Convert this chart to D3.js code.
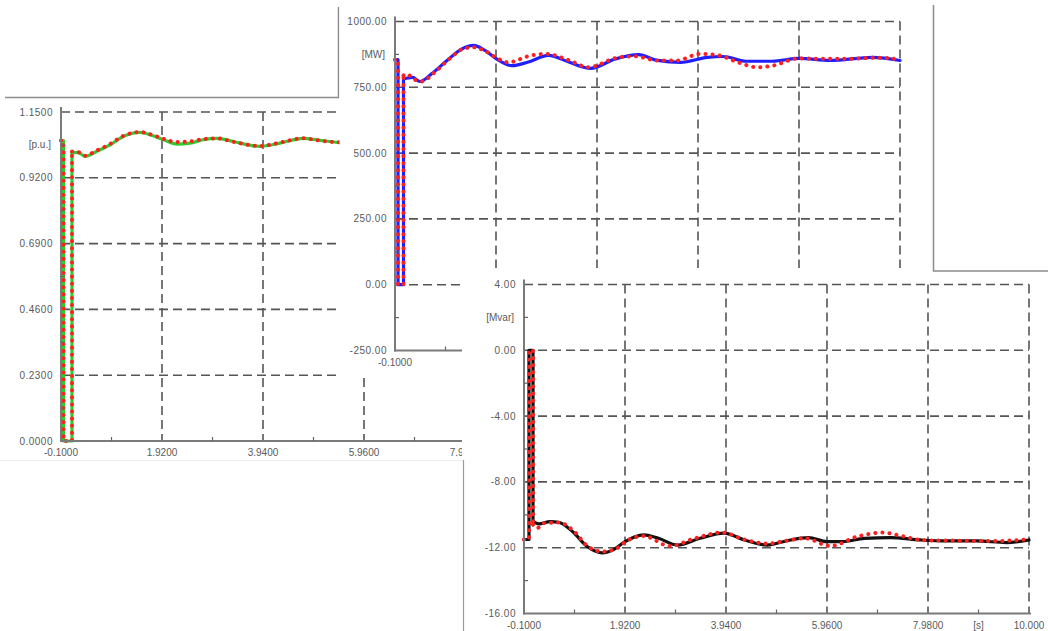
<!DOCTYPE html>
<html>
<head>
<meta charset="utf-8">
<script src="https://cdn.jsdelivr.net/npm/d3@7"></script>
<style>
  html, body { margin: 0; padding: 0; background: #fff; }
  svg { display: block; }
  text { font-family: "Liberation Sans", Arial, sans-serif; font-size: 10px; fill: #5a5a5a; }
  text.ylab { letter-spacing: 0.5px; }
</style>
</head>
<body>
<svg id="chart" width="1048" height="631"></svg>
<script>
// ---------------- DATA ----------------
const xTicks = [-0.1, 1.92, 3.94, 5.96, 7.98, 10.0];
const xTickLabels = ["-0.1000", "1.9200", "3.9400", "5.9600", "7.9800", "10.000"];

// Panel A: voltage [p.u.]
const voltTicks = [0, 0.23, 0.46, 0.69, 0.92, 1.15];
const voltTickLabels = ["0.0000", "0.2300", "0.4600", "0.6900", "0.9200", "1.1500"];
const voltTime = [-0.1, -0.05, -0.05, 0.12, 0.12, 0.24, 0.38, 0.61, 0.88, 1.14, 1.48, 1.74, 1.95, 2.22, 2.48, 2.74, 3.02, 3.34, 3.88, 4.28, 4.74, 5.08, 5.44, 5.7];
const voltSim  = [1.05, 1.05, 0, 0, 1.007, 1.009, 0.995, 1.012, 1.035, 1.064, 1.079, 1.067, 1.053, 1.038, 1.041, 1.053, 1.058, 1.047, 1.030, 1.041, 1.058, 1.051, 1.044, 1.042];
const voltMeas = [1.05, 1.05, 0, 0, 1.012, 1.010, 0.997, 1.015, 1.038, 1.066, 1.080, 1.069, 1.056, 1.045, 1.047, 1.055, 1.058, 1.046, 1.031, 1.043, 1.058, 1.050, 1.044, 1.043];

// Panel B: active power [MW]
const powTicks = [-250, 0, 250, 500, 750, 1000];
const powTickLabels = ["-250.00", "0.00", "250.00", "500.00", "750.00", "1000.00"];
const powSimTime = [-0.1, -0.04, -0.04, 0.07, 0.07, 0.25, 0.4, 0.63, 0.94, 1.24, 1.47, 1.7, 1.93, 2.24, 2.55, 2.97, 3.39, 3.81, 4.31, 4.77, 5.15, 5.61, 6.15, 6.46, 6.92, 7.45, 7.98, 8.6, 9.45, 10.0];
const powSim = [855, 855, 0, 0, 782, 788, 772, 801, 852, 896, 909, 890, 858, 832, 845, 871, 845, 822, 858, 874, 852, 845, 864, 867, 849, 849, 860, 852, 864, 852];
const powMeasTime = [-0.1, -0.04, -0.04, 0.07, 0.07, 0.13, 0.27, 0.42, 0.7, 1.0, 1.25, 1.47, 1.7, 1.93, 2.16, 2.62, 2.93, 3.39, 3.77, 4.31, 4.69, 5.15, 5.54, 6.0, 6.38, 6.76, 7.15, 7.45, 7.98, 8.37, 8.91, 9.52, 9.83, 10.0];
const powMeas = [855, 855, 0, 0, 795, 801, 782, 772, 808, 860, 895, 902, 888, 862, 845, 871, 877, 852, 826, 861, 868, 852, 852, 877, 871, 845, 826, 832, 860, 858, 858, 862, 860, 848];

// Panel C: reactive power [Mvar]
const qTicks = [-16, -12, -8, -4, 0, 4];
const qTickLabels = ["-16.00", "-12.00", "-8.00", "-4.00", "0.00", "4.00"];
const qSimTime = [-0.1, 0, 0, 0.08, 0.08, 0.2, 0.42, 0.61, 0.87, 1.17, 1.47, 1.7, 1.92, 2.29, 2.59, 2.97, 3.42, 3.9, 4.31, 4.76, 5.14, 5.59, 5.96, 6.26, 6.71, 7.23, 7.83, 8.35, 8.95, 9.55, 10.0];
const qSim = [-11.5, -11.5, 0, 0, -10.4, -10.55, -10.41, -10.47, -11.02, -11.94, -12.31, -12.1, -11.63, -11.22, -11.43, -11.84, -11.43, -11.12, -11.53, -11.84, -11.59, -11.39, -11.63, -11.63, -11.43, -11.39, -11.53, -11.59, -11.59, -11.69, -11.53];
const qMeasTime = [-0.1, 0, 0, 0.08, 0.08, 0.16, 0.3, 0.6, 0.9, 1.17, 1.47, 1.75, 1.95, 2.29, 2.82, 3.3, 3.86, 4.3, 4.76, 5.2, 5.52, 6.03, 6.56, 7.08, 7.45, 7.9, 8.5, 9.25, 10.0];
const qMeas = [-11.5, -11.5, 0, 0, -10.6, -10.82, -10.51, -10.47, -11.0, -11.9, -12.24, -12.05, -11.6, -11.29, -11.9, -11.45, -11.08, -11.5, -11.75, -11.55, -11.43, -11.9, -11.33, -11.08, -11.29, -11.55, -11.57, -11.6, -11.49];

// ---------------- DRAWING ----------------
const svg = d3.select("#chart");
const PLOT_W = 505, PLOT_H = 329;

function drawSeries(g, x, y, times, vals, style) {
  const pts = times.map((t, i) => [t, vals[i]]);
  let split = 0;
  for (let i = 1; i < pts.length; i++) if (pts[i][0] === pts[i - 1][0]) split = i;
  const lin = d3.line().x(d => x(d[0])).y(d => y(d[1]));
  const smooth = d3.line().x(d => x(d[0])).y(d => y(d[1])).curve(d3.curveMonotoneX);
  const parts = [lin(pts.slice(0, split + 1)), smooth(pts.slice(split))];
  parts.forEach(p => {
    const path = g.append("path").attr("d", p).attr("fill", "none")
      .attr("stroke", style.color).attr("stroke-width", style.width)
      .attr("stroke-linejoin", "round").attr("stroke-linecap", "round");
    if (style.dash) path.attr("stroke-dasharray", style.dash);
  });
}

function drawPanel(cfg) {
  const g = svg.append("g");
  const x = d3.scaleLinear().domain([-0.1, 10.0]).range([cfg.x0, cfg.x0 + PLOT_W]);
  const y = d3.scaleLinear().domain([cfg.yTicks[0], cfg.yTicks[cfg.yTicks.length - 1]])
    .range([cfg.top + PLOT_H, cfg.top]);
  const x0 = cfg.x0, bottom = cfg.top + PLOT_H;

  const grid = g.append("g").attr("stroke", "#555").attr("stroke-width", 1.6)
    .attr("stroke-dasharray", "9,5");
  cfg.yTicks.slice(1).forEach(v => {
    grid.append("line").attr("x1", x0).attr("x2", x(10.0)).attr("y1", y(v)).attr("y2", y(v));
  });
  xTicks.slice(1).forEach(t => {
    grid.append("line").attr("x1", x(t)).attr("x2", x(t)).attr("y1", cfg.top).attr("y2", bottom);
  });

  cfg.series.forEach(s => drawSeries(g, x, y, s.t, s.v, s.style));

  const ax = g.append("g").attr("stroke", "#7a7a7a").attr("stroke-width", 2);
  ax.append("line").attr("x1", x0).attr("x2", x0).attr("y1", cfg.top - 5).attr("y2", bottom + 1);
  ax.append("line").attr("x1", x0 - 1).attr("x2", x(10.0) + 2).attr("y1", bottom).attr("y2", bottom);
  const mt = g.append("g").attr("stroke", "#666").attr("stroke-width", 1.2);
  for (let i = 0; i < cfg.yTicks.length - 1; i++) {
    const ym = (y(cfg.yTicks[i]) + y(cfg.yTicks[i + 1])) / 2;
    mt.append("line").attr("x1", x0).attr("x2", x0 + 4).attr("y1", ym).attr("y2", ym);
  }
  for (let i = 0; i < xTicks.length - 1; i++) {
    const xm = (x(xTicks[i]) + x(xTicks[i + 1])) / 2;
    mt.append("line").attr("x1", xm).attr("x2", xm).attr("y1", bottom).attr("y2", bottom - 4);
  }

  cfg.yTicks.forEach((v, i) => {
    g.append("text").attr("class", "ylab").attr("x", x0 - 8).attr("y", y(v) + 3.5).attr("text-anchor", "end")
      .text(cfg.yLabels[i]);
  });
  xTicks.forEach((t, i) => {
    g.append("text").attr("x", x(t)).attr("y", bottom + 15).attr("text-anchor", "middle")
      .text(xTickLabels[i]);
  });
  const yu = (y(cfg.yTicks[cfg.yTicks.length - 1]) + y(cfg.yTicks[cfg.yTicks.length - 2])) / 2;
  g.append("text").attr("x", x0 - 10).attr("y", yu + 3.5).attr("text-anchor", "end").text(cfg.unit);
  if (cfg.xUnit) {
    const xm = (x(xTicks[4]) + x(xTicks[5])) / 2;
    g.append("text").attr("x", xm).attr("y", bottom + 15).attr("text-anchor", "middle").text(cfg.xUnit);
  }
}

const RED = { color: "#ff1f1f", width: 4, dash: "0.1,7" };

drawPanel({
  x0: 61, top: 112, yTicks: voltTicks, yLabels: voltTickLabels, unit: "[p.u.]",
  series: [
    { t: voltTime, v: voltSim, style: { color: "#2fcc2f", width: 3.2 } },
    { t: voltTime, v: voltMeas, style: RED }
  ]
});
svg.append("path").attr("d", "M5,97.5H338.5V7").attr("fill", "none").attr("stroke", "#8c8c8c").attr("stroke-width", 1.5);
svg.append("line").attr("x1", 0).attr("x2", 463).attr("y1", 460.5).attr("y2", 460.5).attr("stroke", "#eeeeee").attr("stroke-width", 1);

svg.append("rect").attr("x", 339.5).attr("y", 0).attr("width", 593).attr("height", 377.5).attr("fill", "#fff");
drawPanel({
  x0: 395, top: 21.5, yTicks: powTicks, yLabels: powTickLabels, unit: "[MW]",
  series: [
    { t: powSimTime, v: powSim, style: { color: "#1f1fff", width: 3.2 } },
    { t: powMeasTime, v: powMeas, style: RED }
  ]
});
svg.append("path").attr("d", "M933.5,5V271H1048").attr("fill", "none").attr("stroke", "#8c8c8c").attr("stroke-width", 1.5);

svg.append("rect").attr("x", 462).attr("y", 268).attr("width", 586).attr("height", 363).attr("fill", "#fff");
svg.append("path").attr("d", "M933.5,268V271H1048").attr("fill", "none").attr("stroke", "#8c8c8c").attr("stroke-width", 1.5);
svg.append("line").attr("x1", 463.5).attr("x2", 463.5).attr("y1", 460).attr("y2", 631).attr("stroke", "#9a9a9a").attr("stroke-width", 1.2);
drawPanel({
  x0: 524, top: 284.5, yTicks: qTicks, yLabels: qTickLabels, unit: "[Mvar]", xUnit: "[s]",
  series: [
    { t: qSimTime, v: qSim, style: { color: "#111111", width: 3.2 } },
    { t: qMeasTime, v: qMeas, style: RED }
  ]
});
</script>
</body>
</html>
